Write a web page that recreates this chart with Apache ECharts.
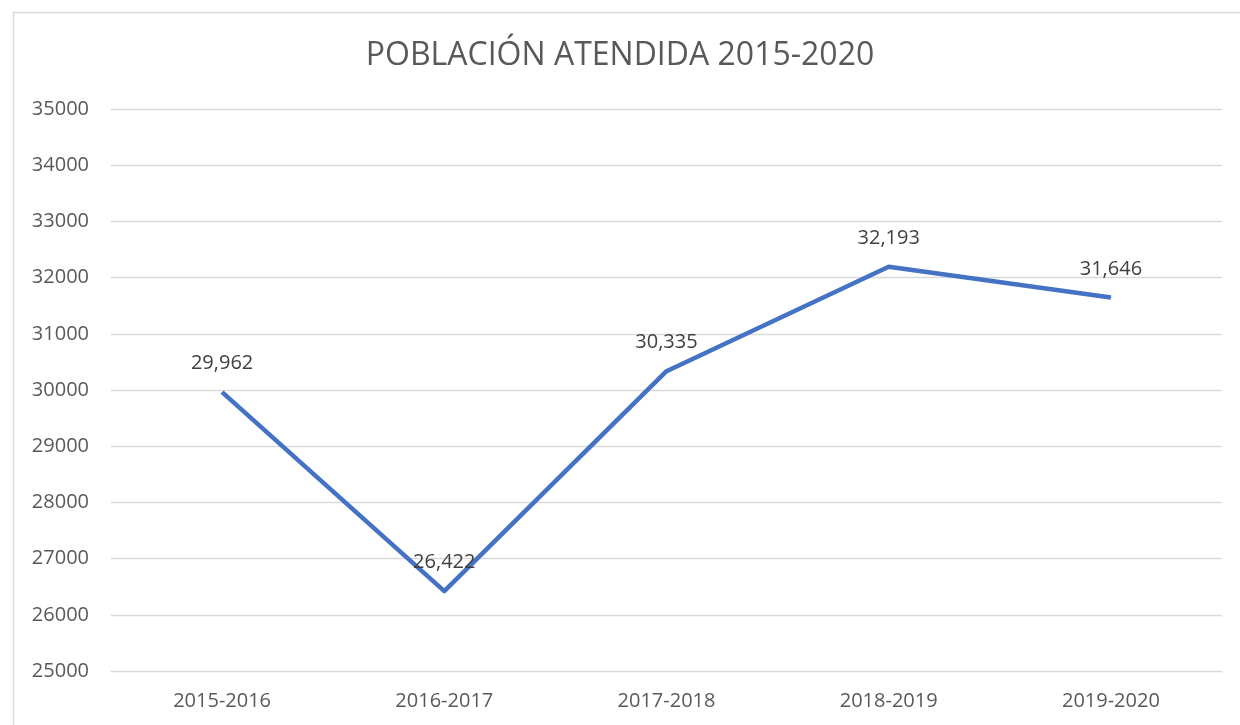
<!DOCTYPE html>
<html>
<head>
<meta charset="utf-8">
<script src="https://cdn.jsdelivr.net/npm/echarts@6/dist/echarts.min.js"></script>
<style>
html,body{margin:0;padding:0;background:#fff;}
#chart{width:1240px;height:725px;}
</style>
</head>
<body>
<div id="chart"></div>
<script>
const title = 'POBLACIÓN ATENDIDA 2015-2020';
const categories = ['2015-2016', '2016-2017', '2017-2018', '2018-2019', '2019-2020'];
const values = [29962, 26422, 30335, 32193, 31646];
const yMin = 25000, yMax = 35000, yStep = 1000;

const chart = echarts.init(document.getElementById('chart'));
const font = '"Open Sans", "Noto Sans", sans-serif';
chart.setOption({
  animation: false,
  backgroundColor: '#fff',
  textStyle: { fontFamily: font },
  graphic: [{
    type: 'rect', left: 11, top: 10,
    shape: { width: 1240, height: 725 },
    style: { fill: 'none', stroke: '#d9d9d9', lineWidth: 1.5 },
    silent: true
  }],
  title: {
    text: title, left: 'center', top: 35,
    textStyle: { fontFamily: font, fontSize: 32, fontWeight: 'normal', color: '#595959' }
  },
  grid: { left: 111, right: 18, top: 109, bottom: 54, containLabel: false },
  xAxis: {
    type: 'category', data: categories, boundaryGap: true,
    axisLine: { show: true, lineStyle: { color: '#d9d9d9', width: 1 } },
    axisTick: { show: false },
    axisLabel: { color: '#595959', fontSize: 20, margin: 20, fontFamily: font }
  },
  yAxis: {
    type: 'value', min: yMin, max: yMax, interval: yStep,
    axisLine: { show: false }, axisTick: { show: false },
    splitLine: { lineStyle: { color: '#d9d9d9', width: 1.3 } },
    axisLabel: { color: '#595959', fontSize: 20, margin: 22, fontFamily: font, formatter: v => String(v) }
  },
  series: [{
    type: 'line', data: values, symbol: 'circle', symbolSize: 1, showSymbol: true,
    lineStyle: { color: '#4472C4', width: 4.5, join: 'round' },
    itemStyle: { color: '#4472C4' },
    label: {
      show: true, position: 'top', distance: 18, color: '#404040', fontSize: 20, fontFamily: font,
      formatter: p => p.value.toLocaleString('en-US')
    }
  }]
});
</script>
</body>
</html>
